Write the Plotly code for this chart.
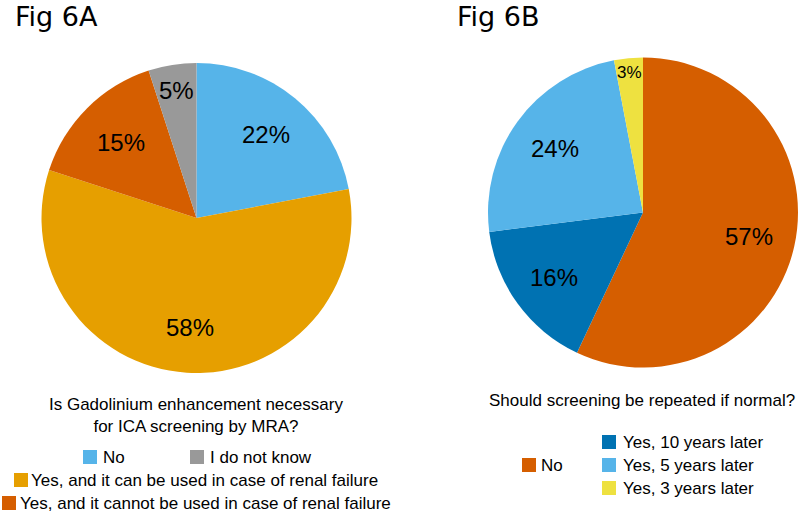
import math
import plotly.graph_objects as go

W, H = 800, 512

# Fig 6A data
labels_a = ["No", "Yes, and it can be used in case of renal failure",
            "Yes, and it cannot be used in case of renal failure", "I do not know"]
values_a = [22, 58, 15, 5]
colors_a = ["#56B4E9", "#E69F00", "#D55E00", "#999999"]
question_a = "Is Gadolinium enhancement necessary<br>for ICA screening by MRA?"

# Fig 6B data
labels_b = ["No", "Yes, 10 years later", "Yes, 5 years later", "Yes, 3 years later"]
values_b = [57, 16, 24, 3]
colors_b = ["#D55E00", "#0072B2", "#56B4E9", "#EEE140"]
question_b = "Should screening be repeated if normal?"

# layout / style settings (pixels)
pie_a = dict(cx=196.5, cy=218, r=155)
pie_b = dict(cx=643, cy=212.5, r=155)
label_frac_a = [0.70, 0.71, 0.69, 0.83]
label_frac_b = [0.70, 0.71, 0.70, 0.91]
label_size_a = [24, 24, 24, 24]
label_size_b = [24, 24, 24, 17]
# legend swatch (x, y) and text x
legend_a = [(83, 457, 103), (14, 480, 31), (2, 503, 20), (190, 457, 210)]
legend_b = [(522, 465, 541), (602, 442, 623), (602, 465, 623), (602, 488, 623)]


def px_x(x):
    return x / W


def px_y(y):
    return 1 - y / H


fig = go.Figure()


def add_pie(labels, values, colors, p):
    fig.add_trace(go.Pie(
        labels=labels, values=values, sort=False, direction="clockwise", rotation=0,
        marker=dict(colors=colors, line=dict(width=0)),
        textinfo="none",
        domain=dict(x=[px_x(p["cx"] - p["r"]), px_x(p["cx"] + p["r"])],
                    y=[px_y(p["cy"] + p["r"]), px_y(p["cy"] - p["r"])]),
        showlegend=False, hoverinfo="label+percent",
    ))


add_pie(labels_a, values_a, colors_a, pie_a)
add_pie(labels_b, values_b, colors_b, pie_b)

annotations = []
shapes = []


def add_text(x, y, text, size=17, family="Liberation Sans", xanchor="left"):
    annotations.append(dict(
        x=px_x(x), y=px_y(y), xref="paper", yref="paper", text=text,
        showarrow=False, xanchor=xanchor, yanchor="middle",
        font=dict(family=family, size=size, color="black"),
    ))


def add_swatch(x, y, color):
    shapes.append(dict(
        type="rect", xref="paper", yref="paper",
        x0=px_x(x), x1=px_x(x + 14), y0=px_y(y + 7), y1=px_y(y - 7),
        fillcolor=color, line=dict(width=0),
    ))


def add_pct_labels(values, p, fracs, sizes):
    total = sum(values)
    cum = 0
    for v, f, s in zip(values, fracs, sizes):
        mid = (cum + v / 2) / total * 2 * math.pi
        cum += v
        x = p["cx"] + f * p["r"] * math.sin(mid)
        y = p["cy"] - f * p["r"] * math.cos(mid)
        add_text(x, y, f"{round(v / total * 100)}%", size=s, xanchor="center")


add_pct_labels(values_a, pie_a, label_frac_a, label_size_a)
add_pct_labels(values_b, pie_b, label_frac_b, label_size_b)

# titles
add_text(13, 16, "Fig 6A", size=27, family="DejaVu Sans")
add_text(455, 16, "Fig 6B", size=27, family="DejaVu Sans")

# Fig 6A question and legend
annotations.append(dict(
    x=px_x(196), y=px_y(415), xref="paper", yref="paper", text=question_a,
    showarrow=False, xanchor="center", yanchor="middle",
    font=dict(family="Liberation Sans", size=17, color="black"),
))
for (sx, sy, tx), lab, col in zip(legend_a, labels_a, colors_a):
    add_swatch(sx, sy, col)
    add_text(tx - 2, sy, lab)

# Fig 6B question and legend
add_text(642, 400, question_b, xanchor="center")
for (sx, sy, tx), lab, col in zip(legend_b, labels_b, colors_b):
    add_swatch(sx, sy, col)
    add_text(tx - 2, sy, lab)

fig.update_layout(
    width=W, height=H, margin=dict(l=0, r=0, t=0, b=0),
    paper_bgcolor="white", plot_bgcolor="white",
    annotations=annotations, shapes=shapes, showlegend=False,
)

fig.write_html("out.html", config={"displayModeBar": False},
               post_script="document.body.style.margin='0';document.body.style.overflow='hidden';")
